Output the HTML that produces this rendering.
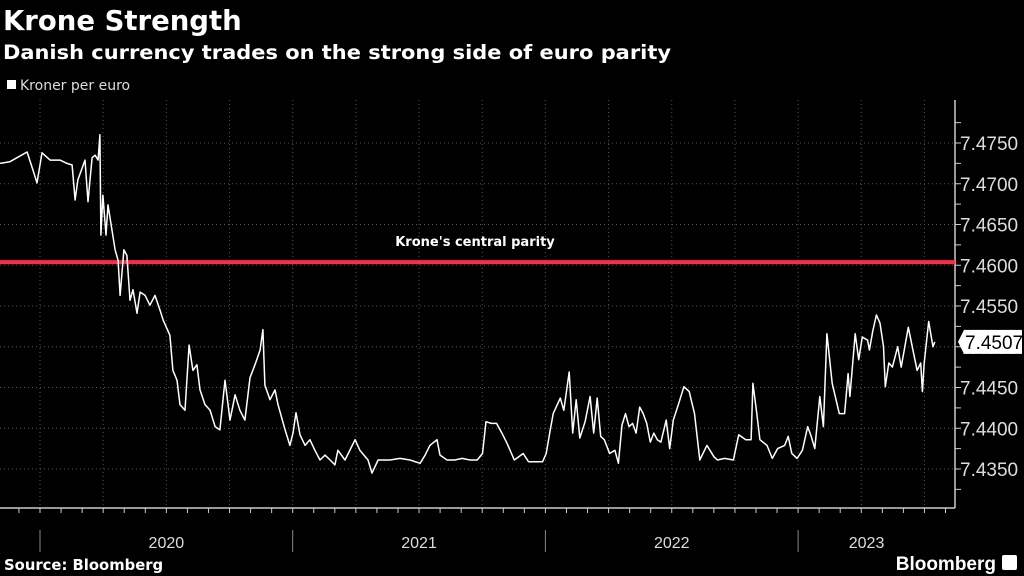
<!DOCTYPE html>
<html><head><meta charset="utf-8"><style>
html,body{margin:0;padding:0;background:#000;width:1024px;height:576px;overflow:hidden;font-family:"Liberation Sans","DejaVu Sans",sans-serif;color:#fff}
svg{position:absolute;left:0;top:0}
.dv{font-family:"DejaVu Sans","Liberation Sans",sans-serif}
</style></head><body>
<svg width="1024" height="576">
<text class="dv" x="3" y="30" font-size="27.5" font-weight="bold" fill="#fff">Krone Strength</text>
<text class="dv" x="3" y="59" textLength="668" lengthAdjust="spacingAndGlyphs" font-size="19.5" font-weight="bold" fill="#fff">Danish currency trades on the strong side of euro parity</text>
<rect x="7" y="80" width="9" height="9" fill="#fff"/>
<text class="dv" x="20" y="90" font-size="14" fill="#ddd">Kroner per euro</text>
<g id="grid"></g><g id="axes"></g><g id="marks"></g>
<text class="dv" x="4" y="570" font-size="14.8" font-weight="bold" fill="#fff">Source: Bloomberg</text>
<text x="996" y="570" font-size="19" font-weight="bold" text-anchor="end" fill="#fff">Bloomberg</text>
<rect x="1002" y="555" width="15" height="15" rx="2" fill="#fff"/>
</svg>
<script>
const dates=[2019.842,2019.881,2019.909,2019.949,2019.972,2019.988,2020.008,2020.040,2020.079,2020.107,2020.127,2020.139,2020.150,2020.178,2020.190,2020.206,2020.218,2020.230,2020.237,2020.241,2020.249,2020.261,2020.269,2020.285,2020.297,2020.309,2020.317,2020.332,2020.344,2020.356,2020.368,2020.384,2020.396,2020.416,2020.435,2020.455,2020.475,2020.487,2020.514,2020.526,2020.542,2020.554,2020.574,2020.590,2020.605,2020.621,2020.633,2020.653,2020.673,2020.693,2020.712,2020.732,2020.752,2020.772,2020.791,2020.811,2020.831,2020.851,2020.871,2020.882,2020.890,2020.910,2020.930,2020.942,2020.970,2020.989,2021.001,2021.013,2021.029,2021.049,2021.068,2021.088,2021.108,2021.128,2021.148,2021.167,2021.179,2021.207,2021.247,2021.266,2021.298,2021.314,2021.338,2021.385,2021.425,2021.464,2021.504,2021.524,2021.543,2021.571,2021.583,2021.611,2021.642,2021.670,2021.702,
2021.730,2021.751,2021.765,2021.786,2021.807,2021.828,2021.849,2021.877,2021.912,2021.933,2021.989,2022.003,2022.017,2022.031,2022.059,2022.073,2022.094,2022.108,2022.122,2022.136,2022.157,2022.177,2022.191,2022.205,2022.219,2022.233,2022.254,2022.275,2022.289,2022.303,2022.317,2022.331,2022.345,2022.359,2022.373,2022.387,2022.401,2022.415,2022.429,2022.443,2022.457,2022.478,2022.492,2022.506,2022.527,2022.548,2022.569,2022.590,2022.611,2022.639,2022.667,2022.681,2022.709,2022.744,2022.765,2022.793,2022.814,2022.821,2022.835,2022.849,2022.877,2022.898,2022.919,2022.947,2022.961,2022.975,2022.996,2023.017,2023.038,2023.052,2023.066,2023.086,2023.100,2023.114,2023.135,2023.163,2023.184,2023.198,2023.205,2023.226,2023.240,2023.254,2023.275,2023.282,2023.296,2023.310,2023.324,2023.338,2023.345,2023.359,2023.373,2023.394,2023.408,2023.436,2023.457,2023.471,2023.485,2023.492,2023.499,2023.517,2023.527,2023.534,2023.541];
const values=[7.4725,7.4727,7.4732,7.4739,7.4717,7.4701,7.4738,7.4729,7.4729,7.4725,7.4723,7.4680,7.4705,7.4729,7.4678,7.4732,7.4735,7.4729,7.4760,7.4637,7.4686,7.4637,7.4674,7.4643,7.4619,7.4606,7.4563,7.4619,7.4612,7.4557,7.4570,7.4541,7.4567,7.4563,7.4551,7.4563,7.4545,7.4533,7.4514,7.4471,7.4459,7.4429,7.4422,7.4502,7.4471,7.4478,7.4447,7.4429,7.4422,7.4402,7.4398,7.4459,7.4410,7.4441,7.4422,7.4410,7.4462,7.4478,7.4496,7.4521,7.4453,7.4435,7.4447,7.4429,7.4398,7.4379,7.4394,7.4419,7.4392,7.4379,7.4386,7.4373,7.4361,7.4367,7.4361,7.4355,7.4373,7.4361,7.4386,7.4373,7.4361,7.4345,7.4361,7.4361,7.4363,7.4361,7.4357,7.4367,7.4379,7.4386,7.4367,7.4361,7.4361,7.4363,7.4361,
7.4361,7.4369,7.4408,7.4406,7.4406,7.4394,7.4381,7.4361,7.4369,7.4359,7.4359,7.4369,7.4394,7.4418,7.4437,7.4422,7.4469,7.4394,7.4435,7.4388,7.4408,7.4439,7.4394,7.4437,7.4390,7.4386,7.4369,7.4373,7.4357,7.4404,7.4418,7.4402,7.4406,7.4394,7.4426,7.4418,7.4406,7.4383,7.4394,7.4386,7.4383,7.4410,7.4375,7.4410,7.4430,7.4451,7.4445,7.4418,7.4361,7.4379,7.4365,7.4361,7.4363,7.4361,7.4392,7.4386,7.4386,7.4455,7.4422,7.4386,7.4379,7.4363,7.4375,7.4379,7.4390,7.4369,7.4363,7.4373,7.4402,7.4390,7.4375,7.4439,7.4402,7.4516,7.4455,7.4418,7.4418,7.4467,7.4439,7.4516,7.4484,7.4512,7.4508,7.4496,7.4520,7.4539,7.4529,7.4500,7.4451,7.4480,7.4475,7.4500,7.4475,7.4524,7.4492,7.4471,7.4480,7.4445,7.4480,7.4531,7.4512,7.4500,7.4506];
const yTicks=[7.4350,7.4400,7.4450,7.4500,7.4550,7.4600,7.4650,7.4700,7.4750];
const yearLabels=["2020","2021","2022","2023"];
const yearStarts=[2020,2021,2022,2023];
const parity=7.46038;
const lastLabel="7.4507";
const NS="http://www.w3.org/2000/svg";
const X=t=>40+(t-2020)*252.7;
const Y=v=>143+(7.4750-v)*8150;
function mk(tag,attrs,parent){const e=document.createElementNS(NS,tag);for(const k in attrs)e.setAttribute(k,attrs[k]);parent.appendChild(e);return e;}
const grid=document.getElementById('grid'),axes=document.getElementById('axes'),marks=document.getElementById('marks');
yTicks.forEach(v=>{
 const l=mk('line',{x1:0,x2:955,y1:Y(v),y2:Y(v),stroke:'#555','stroke-dasharray':'1 3','stroke-width':1},grid);
 
 
 const t=mk('text',{x:960,y:Y(v)+7,'font-size':19,fill:'#ddd'},axes);
 t.textContent=v.toFixed(4);
 
 
});
for(let v=7.4325;v<7.478;v+=0.0025){mk('line',{x1:955,x2:961,y1:Y(v),y2:Y(v),stroke:'#ccc'},axes);}
for(let q=2019.75;q<2023.6;q+=0.25){
 if(X(q)<0)continue;
 const l=mk('line',{x1:X(q),x2:X(q),y1:100,y2:508,stroke:'#555','stroke-dasharray':'1 3'},grid);
 
 
}
for(let m=-2;m<44;m++){const x=X(2020+m/12);if(x<0||x>955)continue;mk('line',{x1:x,x2:x,y1:508,y2:513,stroke:'#ccc'},axes);}
const ax=mk('line',{x1:955,x2:955,y1:100,y2:508,stroke:'#ccc','stroke-width':1.5},axes);


const bx=mk('line',{x1:0,x2:955,y1:508,y2:508,stroke:'#ccc','stroke-width':1.5},axes);


yearStarts.forEach((y,i)=>{
 mk('line',{x1:X(y),x2:X(y),y1:530,y2:552,stroke:'#888'},axes);
 const t=mk('text',{x:(X(y)+Math.min(X(y+1),955))/2+(i==3?-10:0),y:548,'font-size':16,fill:'#ddd','text-anchor':'middle'},axes);
 t.textContent=yearLabels[i];
 
 
});
const pl=mk('line',{x1:0,x2:955,y1:Y(parity),y2:Y(parity),stroke:'#ff2a4a','stroke-width':4},marks);


const pt=mk('text',{x:475,y:Y(parity)-16,'font-size':13,'font-weight':'bold',fill:'#fff','text-anchor':'middle','class':'dv'},marks);
pt.textContent="Krone's central parity";


let d='';dates.forEach((t,i)=>{d+=(i?'L':'M')+X(t).toFixed(1)+','+Y(values[i]).toFixed(1);});
const line=mk('path',{d:d,fill:'none',stroke:'#fff','stroke-width':1.5,'stroke-linejoin':'round'},marks);


const ly=Y(values[values.length-1]);
const cb=mk('path',{d:`M958,${ly} L964,${ly-12} L1022,${ly-12} L1022,${ly+12} L964,${ly+12} Z`,fill:'#fff'},marks);


const ct=mk('text',{x:965,y:ly+7,'font-size':19,fill:'#000'},marks);
ct.textContent=lastLabel;


</script>
</body></html>
